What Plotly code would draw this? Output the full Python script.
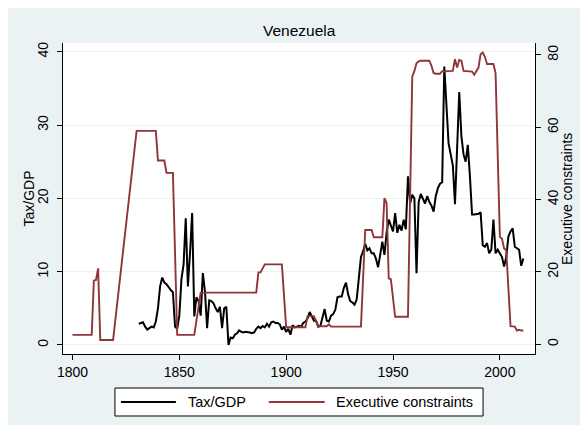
import plotly.graph_objects as go

# ---------------- data ----------------
tax_start = 1831
tax_values = [
    2.9, 3.0, 3.1, 2.5, 2.1, 2.3, 2.5, 2.4, 3.2, 5.0,          # 1831-1840
    8.0, 9.2, 8.5, 8.3, 7.8, 7.5, 7.2, 2.5, 2.2, 4.0,          # 1841-1850
    9.0, 11.0, 17.3, 8.0, 12.5, 18.0, 3.9, 6.5, 6.0, 4.0,      # 1851-1860
    9.8, 7.3, 2.3, 6.1, 6.0, 5.7, 5.0, 4.5, 5.2, 2.3,          # 1861-1870
    5.0, 5.2, 0.0, 1.0, 0.9, 1.4, 1.6, 2.0, 1.8, 1.7,          # 1871-1880
    1.8, 1.8, 1.7, 1.6, 1.7, 2.2, 2.5, 2.3, 2.6, 2.4,          # 1881-1890
    2.9, 2.5, 3.1, 3.2, 3.0, 3.0, 2.8, 2.1, 2.5, 1.8,          # 1891-1900
    2.2, 1.4, 2.7, 2.4, 2.5, 2.6, 2.5, 3.0, 3.2, 3.6,          # 1901-1910
    4.5, 3.8, 3.3, 3.3, 2.5, 2.6, 3.7, 4.9, 3.3, 3.2,          # 1911-1920
    4.0, 4.2, 4.8, 6.5, 6.6, 6.6, 7.8, 8.5, 6.9, 6.0,          # 1921-1930
    5.8, 5.5, 6.2, 8.9, 12.0, 12.8, 13.8, 12.9, 13.2, 12.5,    # 1931-1940
    12.5, 11.8, 10.6, 12.3, 14.1, 12.3, 15.3, 17.1, 16.2, 15.5,  # 1941-1950
    18.0, 15.3, 16.4, 15.6, 17.1, 15.8, 23.0, 19.3, 20.5, 20.0,  # 1951-1960
    9.8, 19.5, 20.6, 20.0, 19.3, 20.3, 19.5, 19.0, 18.2, 20.3,   # 1961-1970
    21.4, 22.0, 22.2, 38.0, 33.0, 27.5, 26.0, 24.5, 19.2, 26.0,  # 1971-1980
    34.5, 28.5, 26.0, 25.0, 27.3, 23.0, 17.8, 17.8, 17.8, 17.9,  # 1981-1990
    18.1, 13.6, 13.4, 13.9, 12.5, 13.0, 17.1, 12.5, 13.0, 12.5,  # 1991-2000
    12.0, 10.7, 12.0, 14.8, 15.5, 15.9, 13.4, 13.2, 13.0, 10.8,  # 2001-2010
    11.8,                                                         # 2011
]
tax_years = list(range(tax_start, tax_start + len(tax_values)))

exec_years = [1800, 1809, 1810, 1811, 1812, 1813, 1819, 1830, 1839, 1840,
              1843, 1844, 1847, 1849, 1857, 1860, 1886, 1887, 1888, 1890,
              1898, 1900, 1909, 1910, 1913, 1915, 1919, 1920, 1921, 1935,
              1937, 1940, 1941, 1945, 1946, 1947, 1948, 1949, 1951, 1957,
              1959, 1960, 1961, 1962, 1963, 1967, 1968, 1969, 1970, 1972,
              1973, 1978, 1979, 1980, 1981, 1982, 1983, 1987, 1988, 1989,
              1990, 1991, 1992, 1993, 1994, 1997, 1998, 2000, 2001, 2002,
              2003, 2005, 2007, 2008, 2009, 2010, 2011]
exec_values = [2.6, 2.6, 17.6, 17.8, 21.0, 1.2, 1.2, 59.0, 59.0, 50.8,
               50.8, 47.4, 47.4, 2.6, 2.6, 14.3, 14.3, 19.9, 19.9, 22.1,
               22.1, 4.7, 4.7, 7.8, 7.8, 5.0, 5.0, 5.5, 4.9, 4.9,
               31.6, 31.6, 29.6, 29.6, 40.4, 39.0, 18.2, 18.0, 7.6, 7.6,
               74.0, 75.5, 77.7, 78.2, 78.4, 78.4, 77.0, 75.0, 74.8, 74.8,
               75.5, 75.6, 78.8, 76.5, 78.6, 78.4, 75.6, 75.4, 74.5, 75.4,
               76.5, 80.2, 80.7, 79.5, 77.5, 77.5, 75.0, 29.7, 29.2, 26.5,
               26.0, 5.0, 4.9, 3.8, 4.0, 3.8, 3.8]

x_ticks = [1800, 1850, 1900, 1950, 2000]
left_ticks = [0, 10, 20, 30, 40]
right_ticks = [0, 20, 40, 60, 80]

title_text = "Venezuela"
left_title = "Tax/GDP"
right_title = "Executive constraints"
series_names = ["Tax/GDP", "Executive constraints"]

# ---------------- style ----------------
# The page body has an 8px default margin, so the figure sits at (8, 8);
# the white strip around it reproduces the white border of the reference.
OFF = 8
W, H = 576, 417
# plot area in page pixels
PL, PR, PT, PB = 63, 535.5, 43, 354
L, R, T, B = PL - OFF, PR - OFF, PT - OFF, PB - OFF
BG = "rgb(234,242,243)"
GRID = "rgb(234,242,243)"
BLACK_LINE = "#000000"
RED_LINE = "rgb(144,53,59)"
FONT = "Arial, Liberation Sans, Helvetica, sans-serif"


def fx(page_px):
    return (page_px - OFF - L) / (R - L)


def fy(page_px):
    return (B - (page_px - OFF)) / (B - T)


fig = go.Figure()
fig.add_trace(go.Scatter(x=tax_years, y=tax_values, mode="lines",
                         name=series_names[0], showlegend=False,
                         line=dict(color=BLACK_LINE, width=2), yaxis="y"))
fig.add_trace(go.Scatter(x=exec_years, y=exec_values, mode="lines",
                         name=series_names[1], showlegend=False,
                         line=dict(color=RED_LINE, width=1.9), yaxis="y2"))

axis_font = dict(family=FONT, size=14, color="#000")

fig.update_layout(
    width=W, height=H,
    margin=dict(l=L, r=W - R, t=T, b=H - B, pad=0),
    paper_bgcolor=BG,
    plot_bgcolor="white",
    font=dict(family=FONT, size=14, color="#000"),
    xaxis=dict(range=[1795.56, 2016.45], tickvals=x_ticks,
               ticks="outside", ticklen=5, tickcolor="#000", tickwidth=1,
               showline=True, linecolor="#000", linewidth=1,
               showgrid=False, zeroline=False, tickfont=axis_font),
    yaxis=dict(range=[-1.23, 41.2], tickvals=left_ticks,
               ticks="outside", ticklen=5, tickcolor="#000", tickwidth=1,
               showline=True, linecolor="#000", linewidth=1,
               showgrid=True, gridcolor=GRID, gridwidth=1,
               zeroline=False, tickangle=-90, tickfont=axis_font,
               ticklabelstandoff=3),
    yaxis2=dict(range=[-2.68, 83.3], tickvals=right_ticks,
                overlaying="y", side="right",
                ticks="outside", ticklen=5, tickcolor="#000", tickwidth=1,
                showline=True, linecolor="#000", linewidth=1,
                showgrid=False, zeroline=False, tickangle=-90,
                tickfont=axis_font),
    showlegend=False,
)

shapes = [
    # legend box
    dict(type="rect", xref="paper", yref="paper", layer="above",
         x0=fx(115), x1=fx(483.5), y0=fy(416), y1=fy(388),
         fillcolor="white", line=dict(color="#000", width=1)),
    dict(type="line", xref="paper", yref="paper",
         x0=fx(121), x1=fx(176), y0=fy(402), y1=fy(402),
         line=dict(color=BLACK_LINE, width=2)),
    dict(type="line", xref="paper", yref="paper",
         x0=fx(269), x1=fx(325), y0=fy(402), y1=fy(402),
         line=dict(color=RED_LINE, width=1.9)),
]

annotations = [
    dict(text=title_text, xref="paper", yref="paper", x=0.5, y=fy(31),
         showarrow=False, xanchor="center", yanchor="middle",
         font=dict(family=FONT, size=15.5, color="#000")),
    dict(text=left_title, xref="paper", yref="paper", x=fx(28), y=0.5,
         showarrow=False, textangle=-90, xanchor="center", yanchor="middle",
         font=axis_font),
    dict(text=right_title, xref="paper", yref="paper", x=fx(567), y=0.5,
         showarrow=False, textangle=-90, xanchor="center", yanchor="middle",
         font=axis_font),
    dict(text=series_names[0], xref="paper", yref="paper", x=fx(186), y=fy(402),
         showarrow=False, xanchor="left", yanchor="middle",
         font=dict(family=FONT, size=14.5, color="#000")),
    dict(text=series_names[1], xref="paper", yref="paper", x=fx(334), y=fy(402),
         showarrow=False, xanchor="left", yanchor="middle",
         font=dict(family=FONT, size=14.5, color="#000")),
]

fig.update_layout(shapes=shapes, annotations=annotations)
fig.write_html("out.html")
